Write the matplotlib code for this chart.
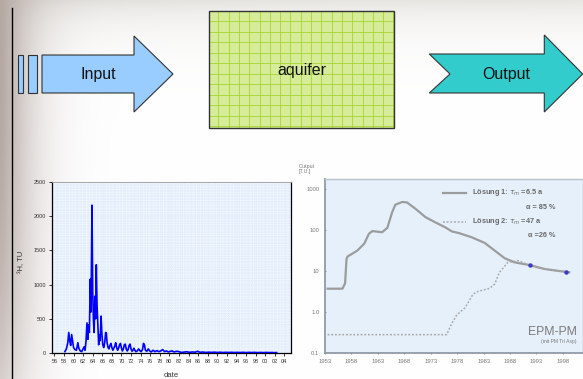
import numpy as np
import matplotlib
matplotlib.use("Agg")
import matplotlib.pyplot as plt
from matplotlib.patches import Polygon, Rectangle
from matplotlib.lines import Line2D

plt.rcParams['font.family'] = ['Liberation Sans', 'DejaVu Sans']

W, H = 583, 379

# tritium in precipitation (TU)
tri_years = [1958.2, 1958.5, 1958.8, 1959.0, 1959.2, 1959.4, 1959.6, 1959.8, 1960.0, 1960.3,
             1960.6, 1960.9, 1961.1, 1961.4, 1961.7, 1962.0, 1962.2, 1962.4, 1962.6, 1962.8,
             1963.0, 1963.1, 1963.3, 1963.5, 1963.65, 1963.85, 1964.0, 1964.15, 1964.3, 1964.45,
             1964.6, 1964.75, 1964.9, 1965.1, 1965.25, 1965.4, 1965.55, 1965.75, 1965.9, 1966.1,
             1966.3, 1966.5, 1966.7, 1966.85, 1967.0, 1967.2, 1967.4, 1967.6, 1967.8, 1968.0,
             1968.2, 1968.4, 1968.6, 1968.8, 1969.0, 1969.2, 1969.4, 1969.6, 1969.8, 1970.0,
             1970.2, 1970.4, 1970.6, 1970.8, 1971.0, 1971.2, 1971.4, 1971.6, 1971.8, 1972.0,
             1972.2, 1972.4, 1972.6, 1972.8, 1973.0, 1973.3, 1973.6, 1973.9, 1974.1, 1974.4,
             1974.6, 1974.8, 1975.0, 1975.3, 1975.6, 1975.9, 1976.2, 1976.6, 1977.0, 1977.4,
             1977.8, 1978.2, 1978.6, 1979.0, 1979.4, 1979.8, 1980.2, 1980.6, 1981.0, 1981.5,
             1982.0, 1982.5, 1983.0, 1983.6, 1984.2, 1984.8, 1985.4, 1985.9, 1986.4, 1987.0,
             1987.6, 1988.2, 1988.8, 1989.4, 1990.0, 1990.6, 1991.2, 1991.8, 1992.4, 1993.0,
             1993.6, 1994.2, 1994.8, 1995.4, 1996.0, 1996.6, 1997.2, 1997.8, 1998.4, 1999.0,
             1999.6, 2000.2, 2000.8, 2001.4, 2002.0, 2002.4]
tri_values = [20, 60, 150, 300, 180, 110, 270, 180, 80, 50,
              40, 150, 70, 30, 20, 60, 90, 40, 170, 440,
              200, 410, 300, 1080, 600, 2160, 900, 480, 300, 830,
              500, 1290, 700, 350, 120, 260, 180, 540, 300, 120,
              80, 150, 300, 290, 150, 80, 60, 110, 140, 80,
              40, 70, 100, 150, 80, 40, 70, 120, 140, 70,
              30, 60, 120, 130, 60, 30, 50, 110, 130, 60,
              25, 40, 70, 40, 20, 30, 60, 30, 20, 50,
              140, 120, 40, 25, 60, 30, 15, 40, 20, 35,
              20, 30, 50, 20, 30, 15, 25, 30, 15, 25,
              20, 8, 12, 18, 10, 15, 12, 25, 10, 14,
              8, 12, 9, 12, 8, 11, 7, 10, 8, 10,
              7, 9, 7, 10, 6, 9, 7, 9, 6, 8,
              6, 8, 6, 7, 5, 6]
tri_ticks = list(range(1956, 2005, 2))
tri_tick_labels = [f"{y % 100:02d}" for y in tri_ticks]

# EPM-PM model output (TU)
sol1_years = [1953.5, 1956.3, 1956.8, 1957.07, 1957.25, 1959.1, 1960.4, 1961.3, 1961.95, 1962.9,
              1963.8, 1964.8, 1965.7, 1966.3, 1967.6, 1968.5, 1970.1, 1972.0, 1973.8, 1975.7,
              1977.0, 1978.2, 1980.7, 1983.2, 1985.1, 1987.0, 1988.8, 1991.6, 1994.5, 1997.0,
              1999.2]
sol1_values = [3.7, 3.7, 5.0, 19.6, 22.4, 31.4, 45.9, 80.6, 94, 91,
               88, 113, 270, 413, 481, 470, 330, 206, 155, 117,
               92, 85, 66.8, 48.4, 31.4, 20.4, 16.3, 14.0, 11.2, 10.1,
               9.3]
sol2_years = [1953.5, 1976.0, 1977.0, 1977.9, 1979.5, 1981.0, 1982.0, 1984.1, 1985.1, 1986.0,
              1987.6, 1989.5, 1991.6, 1994.5, 1997.0, 1999.2]
sol2_values = [0.28, 0.28, 0.53, 0.84, 1.27, 2.73, 3.2, 3.75, 4.8, 9.3,
               16.3, 17.9, 14.0, 11.2, 10.1, 9.3]
meas_years = [1991.7, 1998.6]
meas_values = [14.0, 9.2]
out_ticks = [1953, 1958, 1963, 1968, 1973, 1978, 1983, 1988, 1993, 1998]
out_yticks = [0.1, 1, 10, 100, 1000]
out_ytick_labels = ["0.1", "1.0", "10", "100", "1000"]

fig = plt.figure(figsize=(W / 100, H / 100), dpi=100)

# slide background in pixel coordinates
bg = fig.add_axes([0, 0, 1, 1])
xx = np.arange(W)[None, :, None]
yy = np.arange(H)[:, None, None]
img = np.ones((H, W, 3))
top_col = np.array([0.86, 0.85, 0.83])
a_top = 0.85 * np.exp(-yy / 26.0) * (0.75 + 0.25 * np.exp(-xx / 200.0))
img = img * (1 - a_top) + top_col * a_top
left_col = np.array([0.71, 0.66, 0.64])
a_left = np.exp(-(xx / 34.0) ** 1.3) * (1 - 0.45 * (yy / H) ** 3)
img = img * (1 - a_left) + left_col * a_left
bg.imshow(np.clip(img, 0, 1), extent=[0, W, H, 0], aspect='auto', zorder=0)
bg.set_xlim(0, W)
bg.set_ylim(H, 0)
bg.axis('off')

bg.plot([12.3, 12.3], [8, H], color='black', lw=1.0, zorder=2)

edge = '#333333'
# input arrow with its two tail bars
bg.add_patch(Rectangle((18.3, 55), 5, 38, fc='#99ccff', ec=edge, lw=0.8, zorder=3))
bg.add_patch(Rectangle((28, 55), 9.3, 38, fc='#99ccff', ec=edge, lw=0.8, zorder=3))
bg.add_patch(Polygon([(42, 55), (134, 55), (134, 36), (173, 74), (134, 112), (134, 93), (42, 93)],
                     closed=True, fc='#99ccff', ec=edge, lw=0.8, zorder=3))
bg.text(98, 74, "Input", fontsize=11.5, ha='center', va='center', color='#111111', zorder=4)

# aquifer box with its grid
bx0, by0, bw, bh = 209.3, 11, 184.7, 117
bg.add_patch(Rectangle((bx0, by0), bw, bh, fc='#d6ec98', ec='none', zorder=3))
for gx in np.arange(bx0 + 9.0, bx0 + bw, 10.3):
    bg.plot([gx, gx], [by0, by0 + bh], color='#a8d634', lw=0.6, zorder=3.5)
for gy in np.arange(by0 + 10.0, by0 + bh, 10.5):
    bg.plot([bx0, bx0 + bw], [gy, gy], color='#a8d634', lw=0.6, zorder=3.5)
bg.add_patch(Rectangle((bx0, by0), bw, bh, fc='none', ec=edge, lw=1.0, zorder=3.8))
bg.text(bx0 + bw / 2, 71, "aquifer", fontsize=11.5, ha='center', va='center', color='#111111', zorder=4)

# output arrow with notched tail
bg.add_patch(Polygon([(429.3, 54), (544.3, 54), (544.3, 35), (582.7, 74), (544.3, 112),
                      (544.3, 93), (429.3, 93), (450, 74)],
                     closed=True, fc='#33cccc', ec=edge, lw=0.8, zorder=3))
bg.text(506, 74, "Output", fontsize=11.5, ha='center', va='center', color='#111111', zorder=4)

# tritium input series
ax1 = fig.add_axes([52 / W, 1 - 353 / H, (291 - 52) / W, (353 - 182) / H])
ax1.set_facecolor('#e4effb')
ax1.plot(tri_years, tri_values, color='#0000ff', lw=1.2, zorder=3)
ax1.set_xlim(1955.5, 2005.4)
ax1.set_ylim(0, 2500)
ax1.set_xticks(tri_ticks)
ax1.set_xticklabels(tri_tick_labels)
ax1.set_yticks([0, 500, 1000, 1500, 2000, 2500])
ax1.set_xticks(np.arange(1955.5, 2005.4, 0.7), minor=True)
ax1.set_yticks(np.arange(0, 2500, 40), minor=True)
ax1.grid(which='minor', color='white', lw=0.5, ls=':')
ax1.tick_params(which='minor', length=0)
ax1.tick_params(axis='both', labelsize=4, colors='#333333', length=2.5, width=0.7, pad=2)
for side in ['left', 'bottom', 'right']:
    ax1.spines[side].set_color('black')
    ax1.spines[side].set_linewidth(0.9)
ax1.spines['top'].set_color('#999999')
ax1.spines['top'].set_linewidth(0.6)
fig.text(22 / W, 1 - 262 / H, "³H, TU", rotation=90, fontsize=5.5, color='#333333',
         ha='center', va='center')
fig.text(171 / W, 1 - 375.5 / H, "date", fontsize=5.5, color='#333333', ha='center', va='center')

# model output
ax2 = fig.add_axes([325 / W, 1 - 353 / H, (583 - 325) / W, (353 - 179) / H])
ax2.set_facecolor('#e6f0fa')
ax2.set_yscale('log')
ax2.plot(sol1_years, sol1_values, color='#9c9c9c', lw=1.6, zorder=3)
ax2.plot(sol2_years, sol2_values, color='#a8a8a8', lw=1.1, ls=(0, (1.2, 1.2)), zorder=3)
ax2.plot(meas_years, meas_values, 'o', color='#3a3ac8', ms=3.2, mec='none', zorder=4)
ax2.set_xlim(1953.4, 2001.8)
ax2.set_ylim(0.1, 1750)
ax2.set_xticks(out_ticks)
ax2.set_xticklabels([str(t) for t in out_ticks])
ax2.set_yticks(out_yticks)
ax2.set_yticklabels(out_ytick_labels)
ax2.minorticks_off()
ax2.tick_params(axis='both', labelsize=4.2, colors='#7a7a7a', length=2, width=0.6,
                direction='inout', pad=3)
for side in ['left', 'bottom']:
    ax2.spines[side].set_color('#8f9ba6')
    ax2.spines[side].set_linewidth(1.3)
for side in ['top', 'right']:
    ax2.spines[side].set_color('#b9c2ca')
    ax2.spines[side].set_linewidth(1.0)

ax2.add_line(Line2D([0.459, 0.545], [0.92, 0.92], transform=ax2.transAxes, color='#9c9c9c', lw=1.6))
ax2.add_line(Line2D([0.459, 0.545], [0.753, 0.753], transform=ax2.transAxes, color='#a8a8a8',
                    lw=1.1, ls=(0, (1.2, 1.2))))
lg = dict(transform=ax2.transAxes, fontsize=5.3, color='#6a6a6a', fontweight='bold', va='center')
ax2.text(0.571, 0.92, r"Lösung 1: $\tau_m$ =6.5 a", ha='left', **lg)
ax2.text(0.895, 0.839, "α = 85 %", ha='right', **lg)
ax2.text(0.571, 0.753, r"Lösung 2: $\tau_m$ =47 a", ha='left', **lg)
ax2.text(0.895, 0.678, "α =26 %", ha='right', **lg)
ax2.text(0.881, 0.121, "EPM-PM", transform=ax2.transAxes, fontsize=8.8, color='#7a7a7a',
         ha='center', va='center')
ax2.text(0.975, 0.068, "(mit PM Tri Asp)", transform=ax2.transAxes, fontsize=3.6, color='#7a7a7a',
         ha='right', va='center')
fig.text(299 / W, 1 - 169 / H, "Output\n[T.U.]", fontsize=3.8, color='#777777',
         ha='left', va='center', linespacing=1.1)

fig.savefig("out.png", dpi=100)
